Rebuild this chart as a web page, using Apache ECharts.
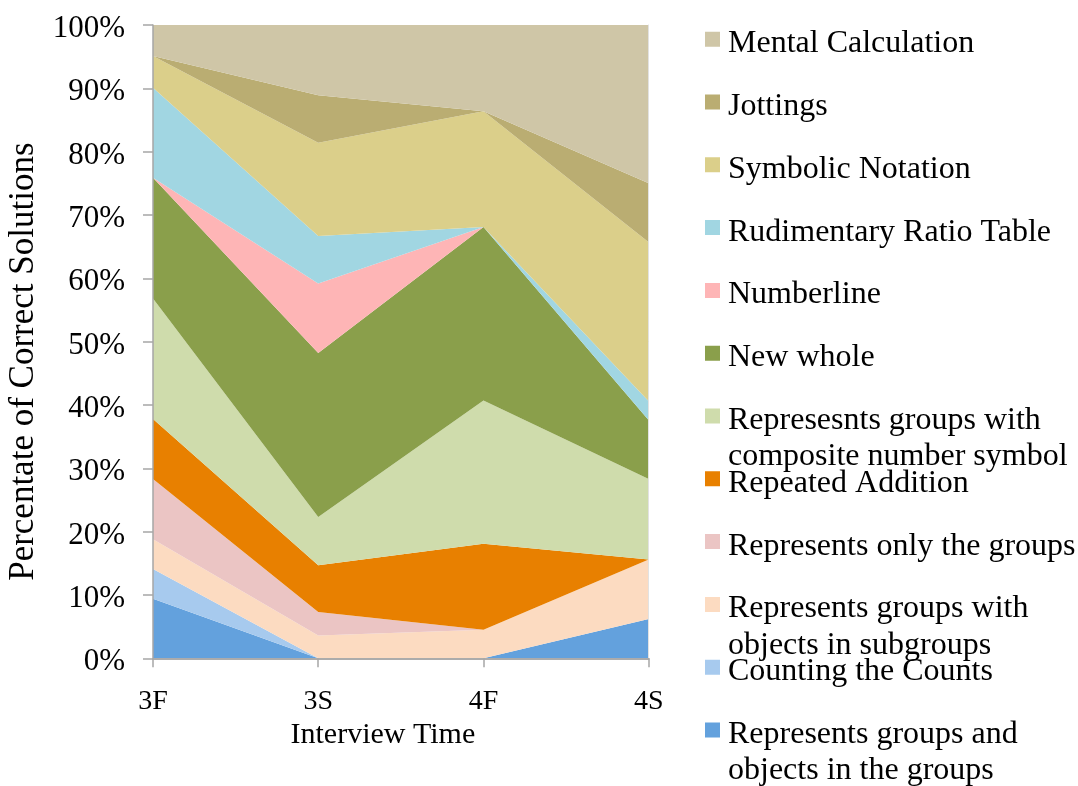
<!DOCTYPE html>
<html>
<head>
<meta charset="utf-8">
<script src="https://cdn.jsdelivr.net/npm/echarts@6/dist/echarts.min.js"></script>
<style>
  html, body { margin: 0; padding: 0; background: #fff; }
  #chart { width: 1078px; height: 786px; }
</style>
</head>
<body>
<div id="chart"></div>
<script>
const categories = ['3F', '3S', '4F', '4S'];

// percent of correct solutions, bottom of the stack first
const groupsAndObjects = [9.4, 0, 0, 6.2];
const countingCounts = [4.7, 0, 0, 0];
const groupsSubgroups = [4.7, 3.6, 4.5, 9.4];
const onlyGroups = [9.5, 3.7, 0, 0];
const repeatedAddition = [9.5, 7.4, 13.6, 0];
const compositeSymbol = [19.0, 7.6, 22.6, 12.7];
const newWhole = [19.1, 25.9, 27.4, 9.3];
const numberline = [0, 11.0, 0, 0];
const ratioTable = [14.2, 7.5, 0, 3.0];
const symbolicNotation = [5.0, 14.7, 18.3, 25.1];
const jottings = [0, 7.5, 0, 9.3];
const mentalCalc = [4.9, 11.1, 13.6, 25.0];

const yTicks = [0, 10, 20, 30, 40, 50, 60, 70, 80, 90, 100];

const seriesDefs = [
  {name: 'Represents groups and objects in the groups', data: groupsAndObjects, color: '#63A1DD', lines: ['Represents groups and', 'objects in the groups']},
  {name: 'Counting the Counts', data: countingCounts, color: '#A7CAEE'},
  {name: 'Represents groups with objects in subgroups', data: groupsSubgroups, color: '#FCDBC1', lines: ['Represents groups with', 'objects in subgroups']},
  {name: 'Represents only the groups', data: onlyGroups, color: '#EBC5C4'},
  {name: 'Repeated Addition', data: repeatedAddition, color: '#E88000'},
  {name: 'Represesnts groups with composite number symbol', data: compositeSymbol, color: '#CFDCAC', lines: ['Represesnts groups with', 'composite number symbol']},
  {name: 'New whole', data: newWhole, color: '#8A9F4B'},
  {name: 'Numberline', data: numberline, color: '#FEB5B6'},
  {name: 'Rudimentary Ratio Table', data: ratioTable, color: '#A1D6E2'},
  {name: 'Symbolic Notation', data: symbolicNotation, color: '#DBCF8A'},
  {name: 'Jottings', data: jottings, color: '#BAAD72'},
  {name: 'Mental Calculation', data: mentalCalc, color: '#CFC6A7'}
];

const font = 'Liberation Serif, Times New Roman, serif';
const axisGray = '#A6A6A6';

const chart = echarts.init(document.getElementById('chart'));

// legend is listed top-down, one component per entry so the spacing stays fixed.
// the icon path has empty room below the square so it sits a bit above the text middle
const legendOrder = seriesDefs.slice().reverse();
const iconCenter = i => 39.2 + i * 62.8;
const legends = legendOrder.map((s, i) => ({
  data: [s.name],
  left: 705,
  top: iconCenter(i) - 11.5,
  orient: 'vertical',
  padding: 0,
  icon: 'path://M0,0H15V15H0Z M0,24H15',
  itemWidth: 15,
  itemHeight: 24,
  selectedMode: false,
  formatter: s.lines ? s.lines[0] : '{name}',
  textStyle: {fontFamily: font, fontSize: 32, color: '#000', lineHeight: 32, padding: [0, 0, 0, 3]}
}));

const secondLines = [];
legendOrder.forEach((s, i) => {
  if (s.lines) {
    secondLines.push({
      type: 'text',
      x: 728,
      y: iconCenter(i) + 41,
      style: {text: s.lines[1], font: '32px ' + font, fill: '#000', verticalAlign: 'middle'}
    });
  }
});

const option = {
  animation: false,
  backgroundColor: '#fff',
  grid: {left: 153, right: 429.3, top: 25, bottom: 127.7},
  legend: legends,
  graphic: secondLines,
  xAxis: [{
    type: 'category',
    data: categories,
    boundaryGap: false,
    z: 10,
    name: 'Interview Time',
    nameLocation: 'middle',
    nameGap: 58,
    nameTextStyle: {fontFamily: font, fontSize: 30, color: '#000', padding: [0, 36, 0, 0]},
    axisLine: {lineStyle: {color: axisGray, width: 1.5}},
    axisTick: {show: true, length: 9, alignWithLabel: true, lineStyle: {color: axisGray, width: 1.5}},
    axisLabel: {fontFamily: font, fontSize: 28, color: '#000', margin: 29}
  }, {
    type: 'category',
    data: categories,
    boundaryGap: false,
    position: 'top',
    z: 10,
    axisLine: {lineStyle: {color: axisGray, width: 1.5}},
    axisTick: {show: false},
    axisLabel: {show: false}
  }],
  yAxis: [{
    type: 'value',
    min: 0,
    max: 100,
    interval: 10,
    z: 10,
    name: 'Percentate of Correct Solutions',
    nameLocation: 'middle',
    nameGap: 112,
    nameTextStyle: {fontFamily: font, fontSize: 35, color: '#000', padding: [0, 40, 0, 0]},
    axisLine: {show: true, lineStyle: {color: axisGray, width: 1.5}},
    axisTick: {show: true, length: 10, lineStyle: {color: axisGray, width: 1.5}},
    splitLine: {show: false},
    axisLabel: {
      fontFamily: font, fontSize: 31, color: '#000', margin: 28,
      verticalAlign: 'top', lineHeight: 8,
      formatter: v => yTicks.includes(v) ? v + '%' : ''
    }
  }, {
    type: 'value',
    min: 0,
    max: 100,
    position: 'right',
    z: 10,
    axisLine: {show: true, lineStyle: {color: '#E2E2E2', width: 1}},
    axisTick: {show: false},
    axisLabel: {show: false},
    splitLine: {show: false}
  }],
  series: seriesDefs.map(s => ({
    name: s.name,
    type: 'line',
    stack: 'total',
    data: s.data,
    color: s.color,
    showSymbol: false,
    symbol: 'none',
    lineStyle: {width: 0},
    areaStyle: {color: s.color, opacity: 1}
  }))
};

chart.setOption(option);
</script>
</body>
</html>
